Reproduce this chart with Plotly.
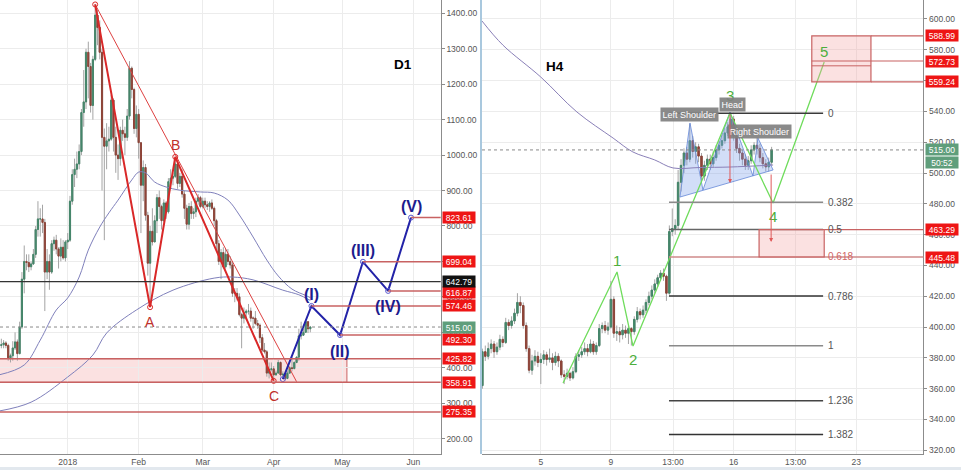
import plotly.graph_objects as go
import pandas as pd

# ---------------- D1 daily candles (Dec 3 2017 .. Apr 17 2018) ----------------
d1_start = '2017-12-03'
d1_first_open = 463
d1_close = [465, 470, 463, 428, 434, 456, 473, 440, 515, 650, 700, 697, 685, 693, 720, 790, 820, 820, 810, 670,
            700, 670, 750, 760, 735, 715, 740, 710, 755,
            760, 870, 945, 960, 975, 1010, 1120, 1150, 1290, 1250, 1140, 1270, 1395, 1360, 1290, 1050, 1025, 1040,
            1045, 1155, 1050, 1000, 990, 1070, 1060, 1050, 1110, 1245, 1185, 1075, 1115,
            1035, 915, 965, 830, 695, 785, 755, 815, 880, 855, 815, 865, 840, 925, 935, 940, 975, 920, 940, 890,
            850, 805, 855, 835, 840, 870, 880, 855,
            870, 860, 855, 865, 850, 815, 750, 700, 725, 685, 720, 700, 690, 610, 610, 600, 550, 540, 555, 560,
            560, 540, 540, 525, 520, 485, 450, 445, 385, 395, 397,
            380, 385, 415, 380, 382, 370, 385, 400, 398, 415, 430, 490, 492, 500, 530, 510, 515]
d1_high = [482, 478, 475, 468, 440, 475, 500, 480, 530, 670, 745, 720, 720, 700, 735, 800, 870, 850, 860, 820,
           735, 720, 760, 770, 775, 740, 765, 760, 760,
           780, 885, 960, 990, 1010, 1030, 1130, 1240, 1300, 1320, 1260, 1280, 1425, 1410, 1380, 1300, 1075, 1090,
           1080, 1170, 1160, 1080, 1030, 1080, 1100, 1080, 1130, 1265, 1250, 1190, 1140,
           1130, 1035, 985, 975, 840, 800, 850, 830, 890, 900, 860, 875, 870, 935, 960, 950, 995, 980, 950, 960,
           900, 860, 865, 870, 850, 880, 890, 885,
           880, 880, 870, 870, 875, 855, 820, 760, 735, 740, 735, 735, 715, 700, 625, 625, 610, 555, 570, 565,
           580, 570, 545, 560, 535, 525, 495, 470, 450, 415, 415,
           405, 392, 422, 418, 390, 385, 392, 405, 430, 418, 432, 510, 530, 510, 535, 532, 518]
d1_low = [455, 455, 455, 420, 415, 420, 450, 420, 438, 510, 610, 675, 670, 675, 690, 710, 770, 770, 780, 560,
          650, 620, 665, 730, 720, 680, 700, 705, 700,
          735, 755, 860, 910, 935, 960, 1000, 1080, 1130, 1160, 1120, 1100, 1265, 1310, 1270, 900, 760, 960,
          1010, 1040, 1010, 950, 930, 970, 1040, 1000, 1040, 1100, 1160, 1060, 1050,
          990, 780, 870, 815, 660, 571, 745, 755, 780, 820, 790, 810, 820, 835, 905, 915, 935, 905, 910, 880,
          820, 790, 790, 820, 820, 825, 860, 850,
          850, 850, 845, 840, 845, 800, 735, 690, 650, 680, 680, 690, 680, 600, 585, 590, 545, 455, 525, 535,
          550, 530, 510, 520, 510, 470, 445, 440, 375, 370, 390,
          362, 378, 384, 375, 370, 365, 368, 383, 390, 395, 413, 420, 480, 490, 500, 498, 500]

# ---------------- H4 candles (Apr 1 16:00 .. Apr 18 04:00) ----------------
h4_start = '2018-04-01 16:00'
h4_first_open = 362
h4_close = [384, 381, 386, 389, 384, 387, 392, 390, 403, 401,
            404, 409, 416, 414, 401, 386, 372, 378, 381, 377,
            379, 382, 379, 380, 377, 381, 378, 369, 368, 370,
            367, 371, 381, 382, 384, 386, 384, 389, 384, 388,
            399, 401, 398, 400, 418, 396, 397, 395, 398, 396,
            399, 397, 405, 410, 408, 411, 416, 420, 424, 428,
            432, 435, 433, 422, 462, 464, 466, 494, 505, 513,
            509, 521, 514, 517, 511, 498, 505, 509, 506, 510,
            515, 518, 521, 526, 530, 535, 524, 516, 513, 509,
            505, 508, 515, 518, 516, 510, 506, 504, 507, 515]
h4_high = [386, 388, 390, 392, 391, 390, 395, 394, 406, 405,
           407, 412, 422, 420, 416, 403, 388, 382, 385, 384,
           383, 385, 384, 386, 383, 384, 383, 379, 372, 373,
           371, 374, 383, 385, 387, 390, 389, 392, 391, 390,
           402, 403, 404, 403, 430, 420, 401, 400, 402, 401,
           401, 400, 407, 413, 412, 414, 418, 423, 427, 431,
           434, 437, 438, 434, 466, 477, 470, 502, 509, 516,
           517, 532, 524, 520, 519, 513, 508, 512, 512, 514,
           518, 521, 525, 529, 533, 539, 537, 527, 519, 515,
           512, 511, 518, 520, 523, 519, 513, 509, 510, 517]
h4_low = [360, 378, 379, 383, 380, 382, 385, 387, 389, 398,
          399, 402, 407, 409, 399, 384, 370, 369, 375, 374,
          363, 376, 375, 377, 372, 375, 374, 367, 363, 366,
          365, 366, 370, 378, 380, 382, 381, 383, 382, 382,
          387, 396, 396, 395, 399, 393, 391, 390, 392, 393,
          389, 388, 395, 403, 405, 406, 409, 414, 418, 422,
          426, 430, 430, 417, 421, 459, 460, 463, 488, 500,
          505, 507, 510, 506, 507, 495, 495, 502, 502, 504,
          508, 512, 516, 519, 524, 528, 521, 513, 508, 505,
          502, 502, 506, 512, 512, 507, 503, 501, 501, 505]

# ---------------- moving averages ----------------
ma_fast_dates = ['2017-12-02', '2017-12-13', '2017-12-20', '2017-12-27', '2018-01-01', '2018-01-06',
                 '2018-01-10', '2018-01-15', '2018-01-19', '2018-01-23', '2018-01-29', '2018-02-01',
                 '2018-02-04', '2018-02-08', '2018-02-13', '2018-02-19', '2018-02-28', '2018-03-06',
                 '2018-03-12', '2018-03-17', '2018-03-23', '2018-03-29', '2018-04-03', '2018-04-09',
                 '2018-04-15', '2018-04-17']
ma_fast_vals = [380, 408, 478, 563, 597, 656, 732, 797, 837, 873, 930, 952, 950, 924, 910, 901, 896, 893,
                873, 831, 769, 704, 659, 622, 604, 598]
ma_slow_dates = ['2017-12-02', '2017-12-16', '2018-01-01', '2018-01-12', '2018-01-18', '2018-01-31',
                 '2018-02-16', '2018-03-06', '2018-03-14', '2018-03-23', '2018-04-05', '2018-04-12',
                 '2018-04-17']
ma_slow_vals = [278, 303, 374, 436, 498, 563, 619, 653, 656, 648, 619, 606, 590]
h4_ma_dates = ['2018-04-01 15:30', '2018-04-02 20:00', '2018-04-05', '2018-04-07 01:30', '2018-04-09 03:00',
               '2018-04-10 06:00', '2018-04-11 12:00', '2018-04-12 13:00', '2018-04-14 02:00',
               '2018-04-15 19:00', '2018-04-18 06:00']
h4_ma_vals = [598.7, 583.1, 562.3, 539.6, 522.7, 513.7, 508.5, 503.3, 503.6, 503.9, 505.2]

# ---------------- D1 drawings ----------------
abc_dates = ['2018-01-13', '2018-02-06', '2018-02-17', '2018-04-01']
abc_prices = [1425, 571, 995, 363]
abc_labels = ['', 'A', 'B', 'C']
trend_dates = ['2018-01-13', '2018-04-11']
trend_prices = [1425, 360.8]
wave_dates = ['2018-04-05', '2018-04-17 12:00', '2018-04-30', '2018-05-10', '2018-05-21', '2018-05-31']
wave_prices = [368, 574.46, 492.30, 699.04, 616.87, 823.61]
wave_labels = ['', '(I)', '(II)', '(III)', '(IV)', '(V)']
zone_top, zone_bottom, zone_end = 425.82, 358.91, '2018-05-03'
support_level = 275.35
black_level = 642.79
last_price = 515.00

# ---------------- H4 drawings ----------------
fib_levels = [0, 0.382, 0.5, 0.618, 0.786, 1, 1.236, 1.382]
fib_high, fib_low = 538.75, 387.85
fib_x0, fib_x1, fib_label_x = '2018-04-12 07:30', '2018-04-21 02:30', '2018-04-21 06:30'
ew_dates = ['2018-04-06 06:30', '2018-04-09 08:20', '2018-04-10 06:15', '2018-04-15 19:00',
            '2018-04-18 06:00', '2018-04-21 04:00']
ew_prices = [363.7, 435.8, 387.7, 539.0, 480.5, 572.1]
ew_labels = ['', '1', '2', '3', '4', '5']
hs_dates = ['2018-04-12 22:30', '2018-04-13 12:15', '2018-04-14 06:00', '2018-04-15 19:00',
            '2018-04-17 02:30', '2018-04-17 09:20', '2018-04-18 06:00', '2018-04-12 22:30']
hs_prices = [484.4, 532.5, 489.0, 539.6, 498.1, 522.7, 502.0, 484.4]
hs_label_text = ['Left Shoulder', 'Head', 'Right Shoulder']
hs_label_dates = ['2018-04-13 12:15', '2018-04-15 22:00', '2018-04-17 11:30']
hs_label_prices = [538.1, 544.2, 526.8]
target_box = ('2018-04-20 11:00', '2018-04-23 20:00', 559.24, 588.99)
target_mid, target_inner = 572.73, 569.6
sup_box = ('2018-04-17 10:50', '2018-04-21 04:00', 445.48, 463.29)
arrows = [('2018-04-15 19:00', 538.9, 493.5), ('2018-04-18 03:20', 500.0, 455.2)]
h4_red_tags = [588.99, 572.73, 559.24, 463.29, 445.48]
countdown = '50:52'

# ---------------- styling ----------------
UP, DN, WICK = '#45866a', '#8e4438', '#a4a4a4'
GRID, AX, TXT = '#ececec', '#8c8c8c', '#555555'
RED_LINE, TAG_RED, TAG_GREEN = '#c86262', '#ee1515', '#5f9e7b'
FONT = 'Arial, Liberation Sans, sans-serif'
W, H = 961, 470
YB = 16 / H

fig = go.Figure()


def add_candles(dates, first_open, c, h, l, xa, ya):
    o = [first_open] + c[:-1]
    bhi = [max(a, b) for a, b in zip(o, c)]
    blo = [min(a, b) for a, b in zip(o, c)]
    fig.add_trace(go.Candlestick(
        x=dates, open=o, high=h, low=l, close=c, xaxis=xa, yaxis=ya, whiskerwidth=0, hoverinfo='skip',
        increasing=dict(line=dict(color=WICK, width=1), fillcolor='rgba(0,0,0,0)'),
        decreasing=dict(line=dict(color=WICK, width=1), fillcolor='rgba(0,0,0,0)')))
    fig.add_trace(go.Candlestick(
        x=dates, open=o, high=bhi, low=blo, close=c, xaxis=xa, yaxis=ya, whiskerwidth=0, hoverinfo='skip',
        increasing=dict(line=dict(color=UP, width=1), fillcolor=UP),
        decreasing=dict(line=dict(color=DN, width=1), fillcolor=DN)))


# H&S fill (behind candles)
fig.add_trace(go.Scatter(x=hs_dates, y=hs_prices, xaxis='x2', yaxis='y2', mode='lines', fill='toself',
                         fillcolor='rgba(125,160,235,0.35)', line=dict(color='rgba(100,135,215,0.8)', width=1),
                         hoverinfo='skip'))

d1_dates = pd.date_range(d1_start, periods=len(d1_close), freq='D')
h4_dates = pd.date_range(h4_start, periods=len(h4_close), freq='4h')
add_candles(d1_dates, d1_first_open, d1_close, d1_high, d1_low, 'x', 'y')
add_candles(h4_dates, h4_first_open, h4_close, h4_high, h4_low, 'x2', 'y2')

MA_COL = '#7f80bb'
fig.add_trace(go.Scatter(x=ma_fast_dates, y=ma_fast_vals, mode='lines', line=dict(color=MA_COL, width=1, shape='spline'),
                         hoverinfo='skip'))
fig.add_trace(go.Scatter(x=ma_slow_dates, y=ma_slow_vals, mode='lines', line=dict(color=MA_COL, width=1, shape='spline'),
                         hoverinfo='skip'))
fig.add_trace(go.Scatter(x=h4_ma_dates, y=h4_ma_vals, xaxis='x2', yaxis='y2', mode='lines',
                         line=dict(color='#8a80b8', width=1, shape='spline'), hoverinfo='skip'))

# ---------- D1 shapes ----------
shapes = []
shapes.append(dict(type='rect', xref='x', yref='y', x0='2017-12-01', x1=zone_end, y0=zone_bottom, y1=zone_top,
                   fillcolor='rgba(243,170,170,0.35)', line=dict(color=RED_LINE, width=1), layer='below'))
for lv in (zone_top, zone_bottom, support_level):
    shapes.append(dict(type='line', xref='x domain', yref='y', x0=0, x1=1, y0=lv, y1=lv,
                       line=dict(color=RED_LINE, width=1.5)))
shapes.append(dict(type='line', xref='x domain', yref='y', x0=0, x1=1, y0=black_level, y1=black_level,
                   line=dict(color='#333333', width=1.2)))
shapes.append(dict(type='line', xref='x domain', yref='y', x0=0, x1=1, y0=last_price, y1=last_price,
                   line=dict(color='#8a8a8a', width=1, dash='dot')))
for d, p in zip(wave_dates[1:], wave_prices[1:]):
    shapes.append(dict(type='line', xref='x', yref='y', x0=d, x1='2018-06-14', y0=p, y1=p,
                       line=dict(color=RED_LINE, width=1.5)))

# ---------- H4 shapes ----------
for lv in fib_levels:
    p = fib_high - lv * (fib_high - fib_low)
    col = {0: '#3a3a3a', 0.382: '#8a8a8a', 0.5: '#666666', 0.618: '#cf8a8a', 0.786: '#333333',
           1: '#8a8a8a', 1.236: '#444444', 1.382: '#333333'}[lv]
    x1 = '2018-04-27' if lv == 0.618 else fib_x1
    shapes.append(dict(type='line', xref='x2', yref='y2', x0=fib_x0, x1=x1, y0=p, y1=p,
                       line=dict(color=col, width=1.5)))
bx0, bx1, by0, by1 = target_box
shapes.append(dict(type='rect', xref='x2', yref='y2', x0=bx0, x1=bx1, y0=by0, y1=by1,
                   fillcolor='rgba(243,170,170,0.35)', line=dict(color=RED_LINE, width=1.2)))
for lv in (by0, by1, target_mid):
    shapes.append(dict(type='line', xref='x2', yref='y2', x0=bx1 if lv != target_mid else bx0, x1='2018-04-27',
                       y0=lv, y1=lv, line=dict(color=RED_LINE, width=1.2)))
shapes.append(dict(type='line', xref='x2', yref='y2', x0=bx0, x1=bx1, y0=target_inner, y1=target_inner,
                   line=dict(color=RED_LINE, width=1)))
sx0, sx1, sy0, sy1 = sup_box
shapes.append(dict(type='rect', xref='x2', yref='y2', x0=sx0, x1=sx1, y0=sy0, y1=sy1,
                   fillcolor='rgba(243,170,170,0.35)', line=dict(color=RED_LINE, width=1.2)))
shapes.append(dict(type='line', xref='x2', yref='y2', x0=sx1, x1='2018-04-27', y0=sy1, y1=sy1,
                   line=dict(color=RED_LINE, width=1.2)))
shapes.append(dict(type='line', xref='x2 domain', yref='y2', x0=0, x1=1, y0=last_price, y1=last_price,
                   line=dict(color='#8a8a8a', width=1, dash='dot')))
# panel border / bottom strip
shapes.append(dict(type='line', xref='paper', yref='paper', x0=481 / W, x1=481 / W, y0=YB, y1=1,
                   line=dict(color='#a9c8de', width=2)))
shapes.append(dict(type='rect', xref='paper', yref='paper', x0=0, x1=1, y0=0, y1=3 / H,
                   fillcolor='#e2e8ee', line=dict(width=0)))

# ---------- wave / pattern lines ----------
fig.add_trace(go.Scatter(x=trend_dates, y=trend_prices, mode='lines', line=dict(color='#dd4040', width=1),
                         hoverinfo='skip'))
fig.add_trace(go.Scatter(x=abc_dates, y=abc_prices, mode='lines+markers', line=dict(color='#d92828', width=2),
                         marker=dict(symbol='circle-open', size=5, color='#d92828'), hoverinfo='skip'))
fig.add_trace(go.Scatter(x=wave_dates, y=wave_prices, mode='lines+markers', line=dict(color='#2323a8', width=2),
                         marker=dict(symbol='circle-open', size=5, color='#5a5ad0'), hoverinfo='skip'))
fig.add_trace(go.Scatter(x=ew_dates, y=ew_prices, xaxis='x2', yaxis='y2', mode='lines',
                         line=dict(color='#6fdc5c', width=1.3), hoverinfo='skip'))

ann = []
for i, (d, p, t) in enumerate(zip(abc_dates, abc_prices, abc_labels)):
    if t:
        ann.append(dict(x=d, y=p, xref='x', yref='y', text=t, showarrow=False,
                        yshift=(12 if i == 2 else -15), font=dict(color='#c0302b', size=14, family=FONT)))
for i, (d, p, t) in enumerate(zip(wave_dates, wave_prices, wave_labels)):
    if t:
        ann.append(dict(x=d, y=p, xref='x', yref='y', text='<b>%s</b>' % t, showarrow=False,
                        yshift=(11 if i % 2 == 1 else -16), font=dict(color='#1c1c8e', size=16, family=FONT)))
for i, (d, p, t) in enumerate(zip(ew_dates, ew_prices, ew_labels)):
    if t:
        ann.append(dict(x=d, y=p, xref='x2', yref='y2', text=t, showarrow=False,
                        yshift=({1: 11, 3: 17, 5: 10}.get(i, -13)),
                        font=dict(color='#4cae3c', size=15, family=FONT)))
for t, d, p in zip(hs_label_text, hs_label_dates, hs_label_prices):
    ann.append(dict(x=d, y=p, xref='x2', yref='y2', text=t, showarrow=False, bgcolor='rgba(128,128,128,0.92)',
                    borderpad=1.5, font=dict(color='white', size=9, family=FONT)))
for lv in fib_levels:
    p = fib_high - lv * (fib_high - fib_low)
    ann.append(dict(x=fib_label_x, y=p, xref='x2', yref='y2', text=('%g' % lv), showarrow=False, xanchor='left',
                    font=dict(color=('#d06666' if lv == 0.618 else '#555555'), size=10, family=FONT)))
for d, y0, y1 in arrows:
    ann.append(dict(x=d, y=y1, ax=d, ay=y0, xref='x2', yref='y2', axref='x2', ayref='y2', text='',
                    showarrow=True, arrowhead=2, arrowsize=0.8, arrowwidth=1, arrowcolor='#e05a5a'))

ann.append(dict(x=403 / W, y=1 - 55 / H, xref='paper', yref='paper', text='<b>D1</b>', showarrow=False,
                font=dict(color='black', size=13.5, family=FONT)))
ann.append(dict(x=555 / W, y=1 - 57 / H, xref='paper', yref='paper', text='<b>H4</b>', showarrow=False,
                font=dict(color='black', size=13.5, family=FONT)))


def tag(val, yref, xpx, bg, text=None, yshift=0):
    ann.append(dict(x=xpx / W, xref='paper', xanchor='left', y=val, yref=yref, text=text or '%.2f' % val,
                    showarrow=False, bgcolor=bg, width=31, height=10, borderpad=0.5, yshift=yshift,
                    font=dict(color='white', size=8.5, family=FONT)))


for p in wave_prices[1:]:
    tag(p, 'y', 441.5, TAG_RED, yshift={492.30: -4, 616.87: -1.5}.get(p, 0))
for p in (zone_top, zone_bottom, support_level):
    tag(p, 'y', 441.5, TAG_RED)
tag(black_level, 'y', 441.5, '#111111')
tag(last_price, 'y', 441.5, TAG_GREEN)
for p in h4_red_tags:
    tag(p, 'y2', 924.5, TAG_RED)
tag(last_price, 'y2', 924.5, TAG_GREEN)
tag(last_price, 'y2', 924.5, TAG_GREEN, text=countdown, yshift=-13)

axis_common = dict(showgrid=True, gridcolor=GRID, gridwidth=1, zeroline=False, showline=True, linecolor=AX,
                   linewidth=1, tickfont=dict(size=8.5, color=TXT, family=FONT))
fig.update_layout(
    width=W, height=H, margin=dict(l=0, r=0, t=0, b=0), paper_bgcolor='white', plot_bgcolor='white',
    showlegend=False, shapes=shapes, annotations=ann, hovermode=False,
    xaxis=dict(domain=[0, 440.7 / W], anchor='y', type='date', range=['2017-12-02 10:00', '2018-06-12 23:30'],
               tickvals=['2018-01-01', '2018-02-01', '2018-03-01', '2018-04-01', '2018-05-01', '2018-06-01'],
               ticktext=['2018', 'Feb', 'Mar', 'Apr', 'May', 'Jun'], rangeslider=dict(visible=False),
               ticks='', **axis_common),
    yaxis=dict(domain=[YB, 1], anchor='x', side='right', range=[156.8, 1437.5],
               tickvals=list(range(200, 1401, 100)), tickformat='.2f', ticks='outside', ticklen=3, tickcolor=AX,
               **axis_common),
    xaxis2=dict(domain=[482 / W, 923.3 / W], anchor='y2', type='date',
                range=['2018-04-01 15:30', '2018-04-26 19:40'],
                tickvals=['2018-04-05', '2018-04-09', '2018-04-12 13:00', '2018-04-16', '2018-04-19 13:00',
                          '2018-04-23'],
                ticktext=['5', '9', '13:00', '16', '13:00', '23'], rangeslider=dict(visible=False),
                ticks='', **axis_common),
    yaxis2=dict(domain=[YB, 1], anchor='x2', side='right', range=[317.6, 612.33],
                tickvals=list(range(320, 601, 20)), tickformat='.2f', ticks='outside', ticklen=3, tickcolor=AX,
                **axis_common),
)

fig.write_html('out.html', config={'displayModeBar': False},
               post_script="document.body.style.margin='0';document.body.style.overflow='hidden';")
